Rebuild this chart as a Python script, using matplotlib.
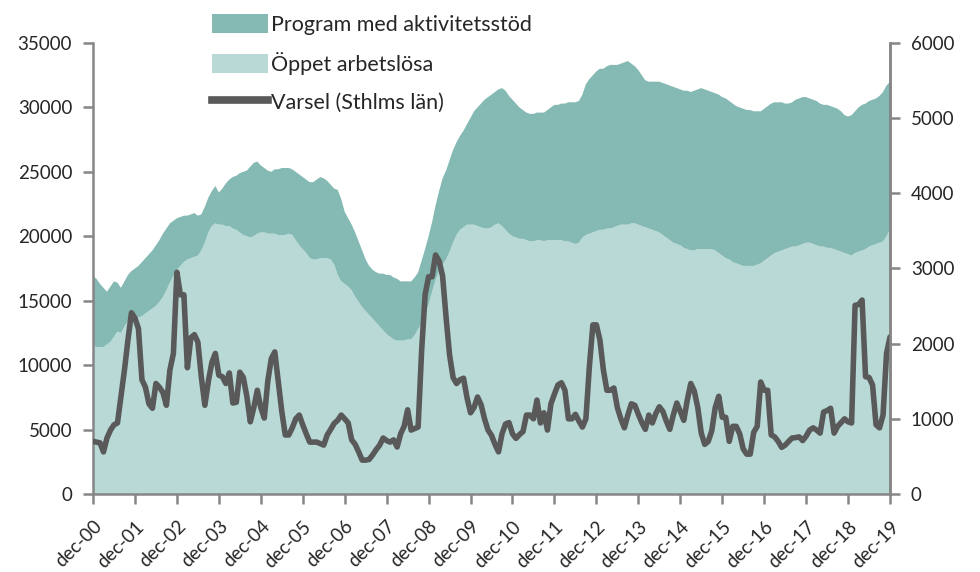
import matplotlib.pyplot as plt
import numpy as np
from matplotlib.patches import Patch
from matplotlib.lines import Line2D

plt.rcParams['font.family'] = ['Lato', 'DejaVu Sans']

# Månadsdata dec-00 .. dec-19 (229 månader)
oppet = [
    11500, 11400, 11400, 11400, 11600, 11800, 12200, 12600, 12500, 13000, 13400, 13500,
    13600, 13700, 13800, 14000, 14200, 14400, 14600, 14900, 15300, 15800, 16400, 16900,
    17400, 17700, 18000, 18200, 18300, 18400, 18500, 18900, 19500, 20300, 20800, 21000,
    20900, 20900, 20800, 20800, 20600, 20500, 20300, 20100, 20000, 19900, 20000, 20200,
    20300, 20300, 20200, 20200, 20200, 20100, 20100, 20100, 20200, 20100, 19700, 19300,
    19000, 18700, 18300, 18200, 18200, 18300, 18300, 18300, 18200, 17800, 17000, 16500,
    16300, 16100, 15800, 15300, 14900, 14500, 14200, 13900, 13600, 13300, 13000, 12700,
    12400, 12200, 12000, 11900, 11900, 11900, 12000, 12000, 12300, 12800, 13200, 13900,
    14700, 15700, 16600, 17300, 17800, 18200, 18800, 19500, 20100, 20500, 20700, 20900,
    20900, 20900, 20800, 20700, 20600, 20600, 20700, 20900, 21000, 20800, 20500, 20200,
    20000, 19900, 19800, 19800, 19700, 19600, 19600, 19700, 19700, 19600, 19700, 19700,
    19700, 19700, 19700, 19600, 19600, 19500, 19400, 19500, 19900, 20100, 20200, 20300,
    20400, 20500, 20500, 20600, 20600, 20700, 20800, 20900, 20900, 20900, 21000, 21000,
    20900, 20800, 20700, 20600, 20500, 20400, 20300, 20100, 19900, 19700, 19500, 19400,
    19300, 19100, 19000, 18900, 18900, 19000, 19000, 19000, 19000, 19000, 18900, 18700,
    18500, 18300, 18200, 18000, 17900, 17800, 17700, 17700, 17700, 17700, 17800, 17900,
    18100, 18300, 18500, 18700, 18800, 18900, 19000, 19100, 19200, 19200, 19300, 19400,
    19500, 19500, 19400, 19300, 19200, 19200, 19100, 19100, 19000, 18900, 18800, 18700,
    18600, 18500, 18700, 18800, 18900, 19000, 19200, 19300, 19400, 19500, 19600, 20000,
    20500,
]

program = [
    5400, 5300, 4900, 4600, 4100, 4300, 4300, 3800, 3500, 3500, 3600, 3800,
    3900, 4000, 4200, 4300, 4400, 4500, 4700, 4800, 4900, 4800, 4600, 4300,
    4000, 3800, 3600, 3400, 3400, 3400, 3100, 2800, 2800, 2700, 2700, 2900,
    2500, 2800, 3300, 3600, 4000, 4200, 4600, 4900, 5100, 5500, 5700, 5600,
    5200, 5000, 4900, 4800, 5000, 5100, 5200, 5200, 5100, 5100, 5300, 5500,
    5600, 5700, 5900, 6000, 6200, 6300, 6200, 6000, 5800, 5900, 6600, 6400,
    5600, 5300, 5100, 5000, 4700, 4400, 4000, 3800, 3800, 3900, 4100, 4400,
    4600, 4800, 4800, 4800, 4600, 4600, 4500, 4500, 4500, 4400, 4900, 5100,
    5300, 5400, 5800, 6200, 6700, 6900, 7100, 7200, 7200, 7300, 7500, 7800,
    8300, 8800, 9200, 9600, 10000, 10200, 10300, 10300, 10400, 10700, 10800, 10700,
    10600, 10400, 10200, 10000, 9900, 9900, 9900, 9900, 9900, 10000, 10100, 10300,
    10500, 10500, 10600, 10700, 10800, 10900, 11000, 11000, 11100, 11700, 12000, 12200,
    12400, 12500, 12500, 12600, 12700, 12600, 12500, 12500, 12600, 12700, 12400, 12200,
    12000, 11700, 11400, 11400, 11500, 11600, 11700, 11800, 11900, 12000, 12100, 12100,
    12100, 12200, 12300, 12300, 12400, 12400, 12500, 12400, 12300, 12200, 12200, 12300,
    12300, 12400, 12300, 12300, 12200, 12200, 12200, 12100, 12100, 12000, 11900, 11800,
    11800, 11800, 11800, 11700, 11600, 11500, 11300, 11200, 11200, 11400, 11400, 11400,
    11300, 11200, 11200, 11200, 11100, 11000, 11100, 11000, 11000, 11000, 10900, 10700,
    10700, 10900, 11000, 11200, 11300, 11300, 11300, 11300, 11300, 11400, 11600, 11700,
    11500,
]

varsel = [
    700, 690, 680, 560, 745, 850, 920, 945, 1300, 1650, 2050, 2410,
    2340, 2200, 1520, 1420, 1200, 1140, 1470, 1420, 1350, 1180, 1650, 1870,
    2950, 2650, 2650, 1680, 2080, 2120, 2020, 1550, 1180, 1500, 1750, 1870,
    1580, 1560, 1470, 1610, 1210, 1220, 1620, 1550, 1300, 960, 1150, 1380,
    1150, 1010, 1500, 1800, 1890, 1500, 1100, 785, 785, 880, 1000, 1050,
    920, 800, 690, 690, 690, 670, 650, 785, 860, 940, 980, 1050,
    1000, 945, 720, 660, 560, 450, 450, 460, 520, 590, 650, 745,
    710, 690, 720, 625, 800, 900, 1120, 850, 870, 890, 1900, 2650,
    2890, 2890, 3180, 3100, 2900, 2350, 1850, 1550, 1470, 1520, 1540, 1280,
    1080, 1150, 1290, 1190, 1000, 850, 780, 660, 560, 800, 930, 950,
    800, 740, 790, 830, 1050, 1050, 1000, 1250, 945, 1080, 850, 1200,
    1330, 1450, 1480, 1380, 1000, 1000, 1060, 970, 890, 1000, 1700, 2250,
    2250, 2050, 1650, 1380, 1380, 1410, 1150, 1000, 880, 1050, 1200, 1180,
    1060, 950, 860, 1050, 945, 1070, 1160, 1100, 970, 860, 1050, 1210,
    1100, 980, 1250, 1470, 1370, 1150, 810, 660, 700, 840, 1150, 1300,
    1020, 1020, 700, 900, 900, 800, 600, 530, 530, 820, 900, 1490,
    1380, 1380, 785, 760, 700, 620, 650, 700, 745, 750, 760, 710,
    770, 850, 880, 850, 810, 1090, 1110, 1140, 810, 900, 950, 1000,
    960, 945, 2510, 2520, 2580, 1560, 1550, 1450, 920, 880, 1050, 1870,
    2090,
]

tick_labels = ['dec-%02d' % y for y in range(0, 20)]

c_oppet = '#b8d9d6'
c_program = '#84bab3'
c_line = '#595959'
c_axis = '#868686'

fig = plt.figure(figsize=(9.8, 5.72), dpi=100)
ax = fig.add_axes([0.0949, 0.1364, 0.8133, 0.7884])
x = np.arange(len(oppet))

ax.stackplot(x, oppet, program, colors=[c_oppet, c_program], linewidth=0)
ax.set_xlim(0, len(oppet) - 1)
ax.set_ylim(0, 35000)
ax.set_yticks(range(0, 35001, 5000))
ax.set_xticks(range(0, len(oppet), 12))
ax.set_xticklabels(tick_labels, rotation=45, ha='right', rotation_mode='anchor')

ax2 = ax.twinx()
ax2.plot(x, varsel, color=c_line, lw=4, solid_joinstyle='round', solid_capstyle='round')
ax2.set_ylim(0, 6000)
ax2.set_yticks(range(0, 6001, 1000))

for a in (ax, ax2):
    a.spines['top'].set_visible(False)
    for s in a.spines.values():
        s.set_color(c_axis)
        s.set_linewidth(1.8)
    a.tick_params(colors=c_axis, width=1.8, length=7, labelcolor='#262626', labelsize=13.5)
ax.tick_params(axis='x', labelsize=13.5, pad=10)
ax.tick_params(axis='y', pad=8)
ax2.tick_params(axis='y', pad=8)
ax2.spines['left'].set_visible(False)
ax2.spines['bottom'].set_visible(False)

# Förklaring ovanför diagrammet
handles = [Patch(facecolor=c_program, edgecolor='none'),
           Patch(facecolor=c_oppet, edgecolor='none'),
           Line2D([], [], color=c_line, lw=5.5)]
labels = ['Program med aktivitetsstöd', 'Öppet arbetslösa', 'Varsel (Sthlms län)']
fig.legend(handles, labels, loc='upper left', bbox_to_anchor=(0.201, 1.001), frameon=False,
           fontsize=15.5, handlelength=2.6, handleheight=0.95, handletextpad=0.12,
           labelspacing=0.78, borderaxespad=0.3, labelcolor='#262626')

fig.savefig('out.png', dpi=100)
